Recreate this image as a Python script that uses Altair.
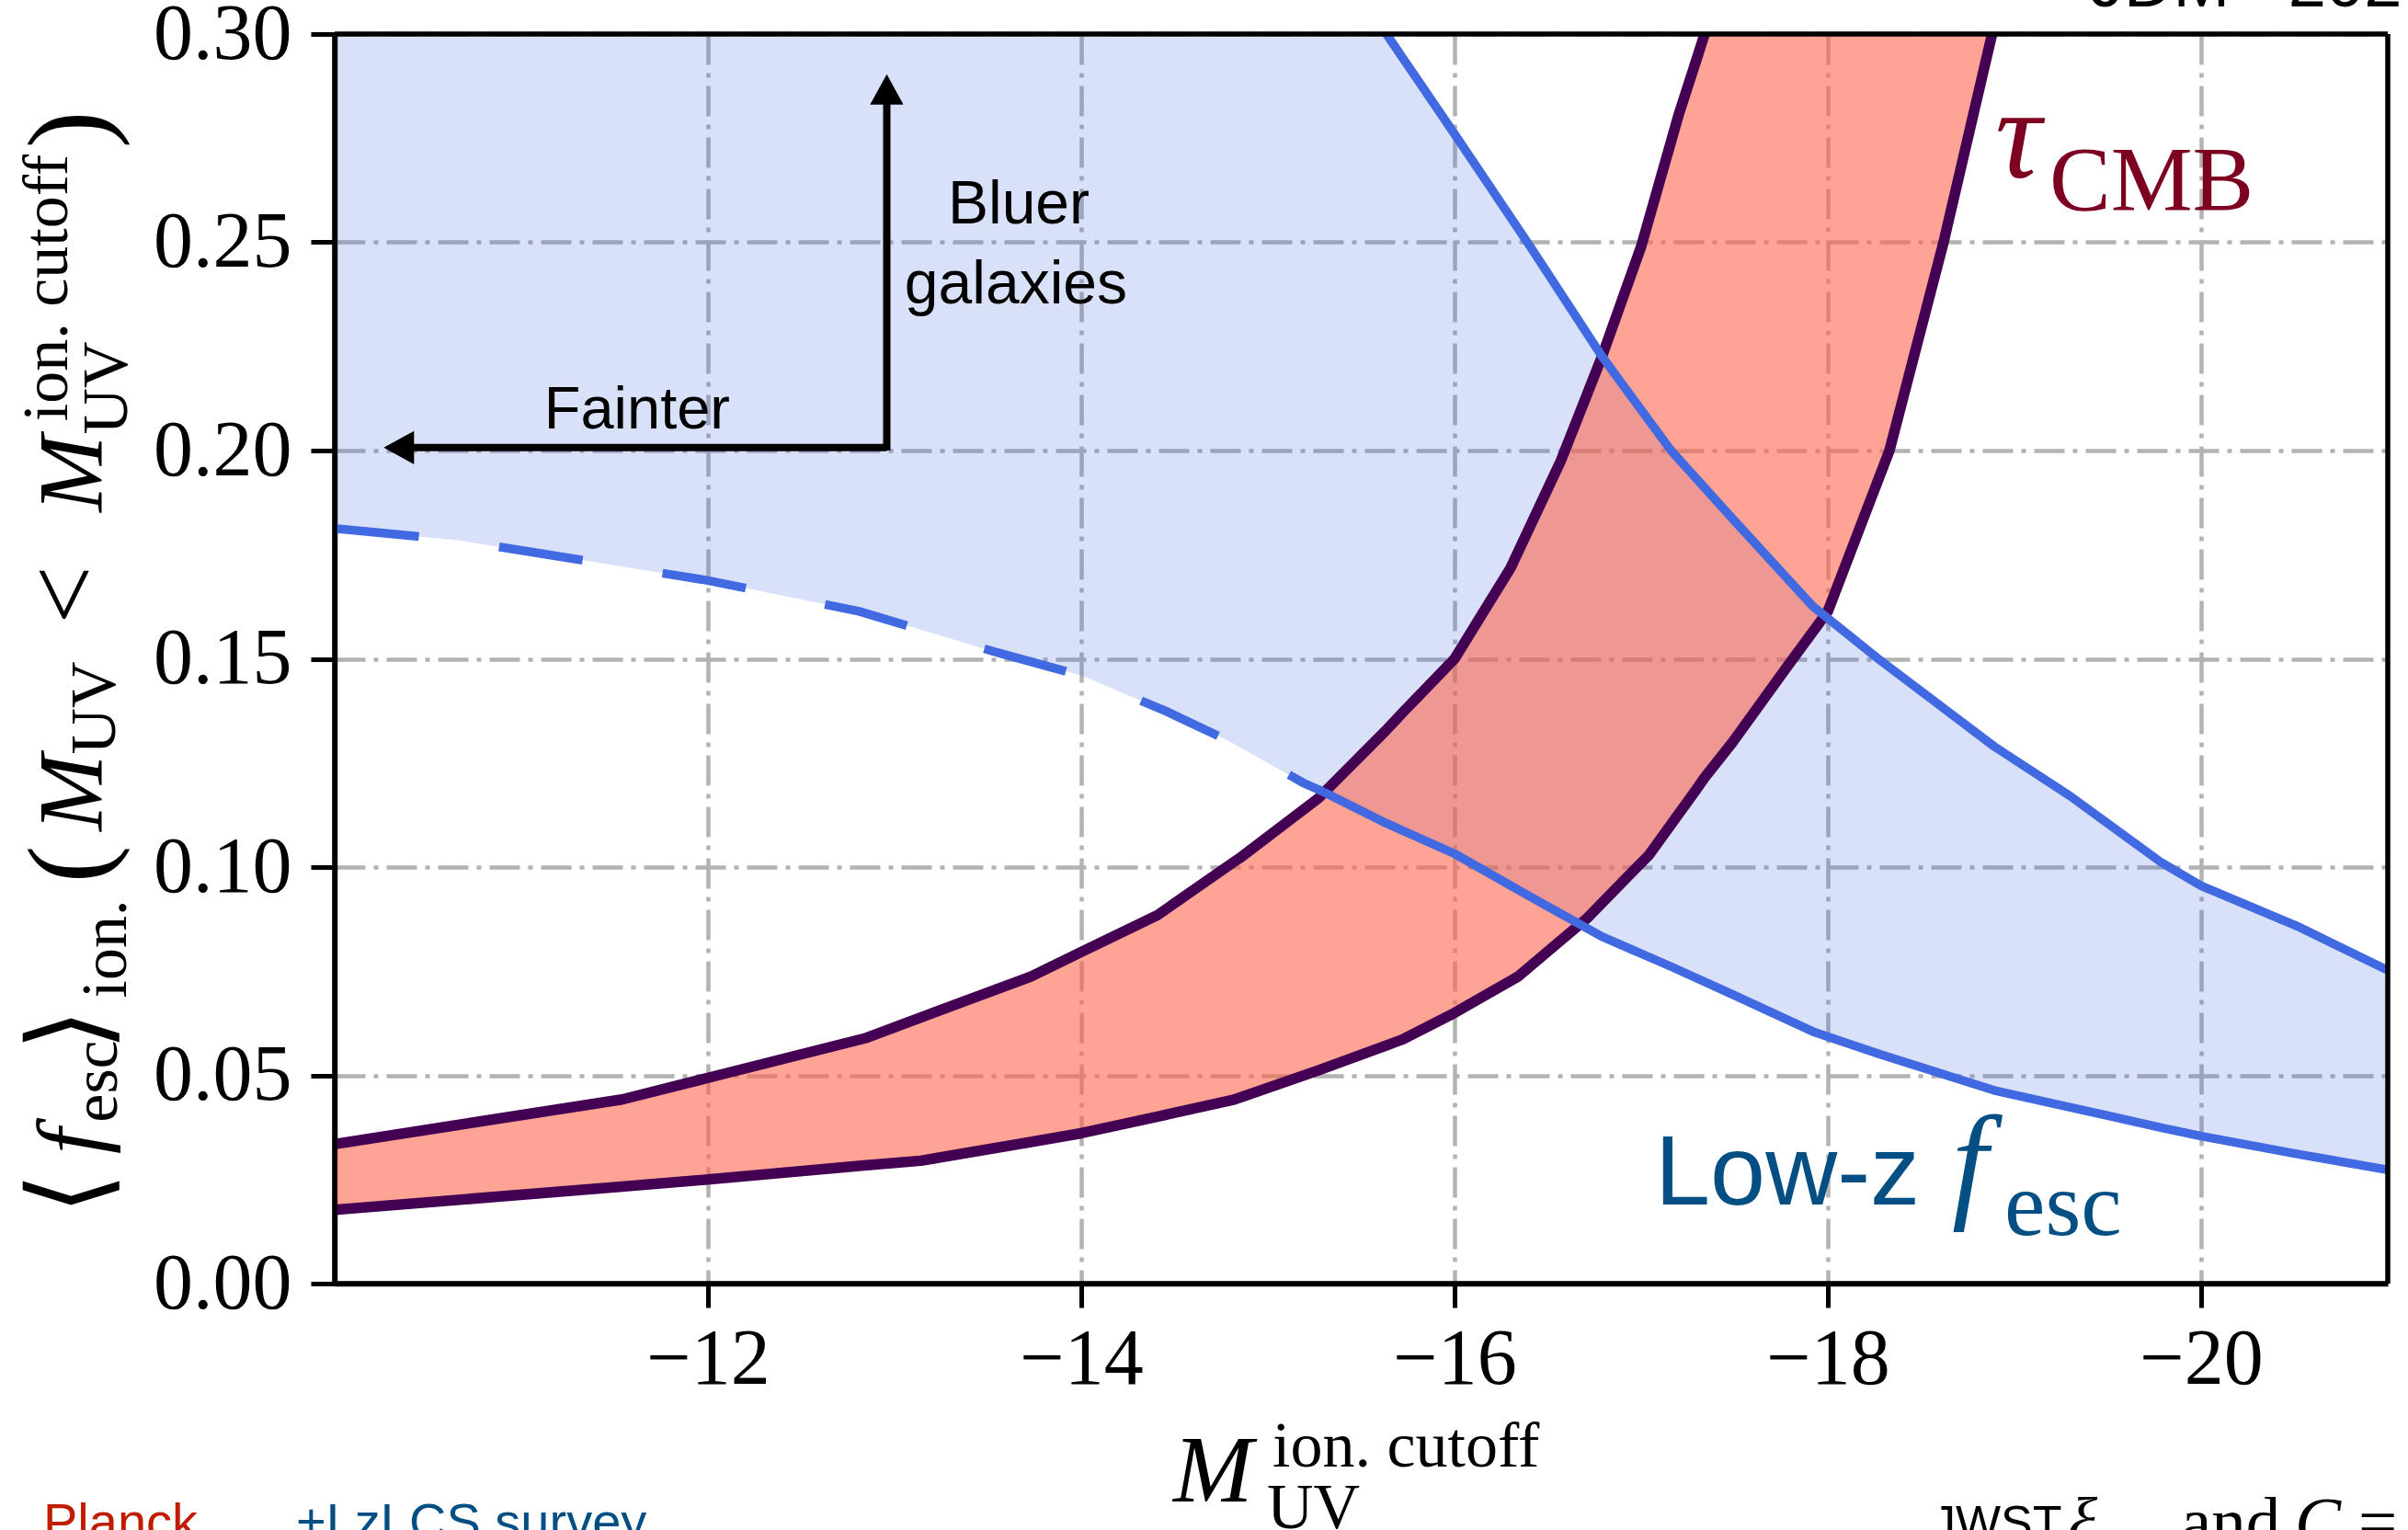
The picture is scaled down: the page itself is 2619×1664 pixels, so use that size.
import altair as alt
import pandas as pd

# ---------------------------------------------------------------- data
x_ticks = [-12, -14, -16, -18, -20]
y_ticks = [0.00, 0.05, 0.10, 0.15, 0.20, 0.25, 0.30]

# tau_CMB band: cutoff magnitude, lower / upper <f_esc>
tau_M = [-10.00, -11.54, -12.00, -12.85, -13.14, -13.73, -14.00, -14.41, -14.82, -14.86,
         -15.27, -15.63, -15.72, -16.00, -16.30, -16.34, -16.57, -16.71, -16.79, -17.00,
         -17.04, -17.20, -17.29, -17.34, -17.49, -17.78, -18.00, -18.33, -18.62, -18.88]
tau_hi = [0.0335, 0.0442, 0.0494, 0.0590, 0.0639, 0.0737, 0.0796, 0.0885, 0.1013, 0.1025,
          0.1165, 0.1327, 0.1370, 0.1500, 0.1718, 0.1756, 0.1976, 0.2135, 0.2226, 0.2490,
          0.2553, 0.2805, 0.2930, 0.3000, 0.3000, 0.3000, 0.3000, 0.3000, 0.3000, 0.3000]
tau_lo = [0.0177, 0.0233, 0.0250, 0.0284, 0.0295, 0.0340, 0.0361, 0.0401, 0.0442, 0.0448,
          0.0512, 0.0571, 0.0586, 0.0650, 0.0727, 0.0737, 0.0824, 0.0877, 0.0914, 0.1010,
          0.1028, 0.1127, 0.1183, 0.1215, 0.1300, 0.1480, 0.1614, 0.2000, 0.2500, 0.3000]
tau_top_M = -17.34          # upper tau curve leaves the panel here

# low-z f_esc band: cutoff magnitude, lower / upper <f_esc>
lowz_M = [-10.00, -10.67, -11.49, -12.00, -12.81, -13.55, -14.00, -14.45, -14.78, -15.19,
          -15.30, -15.635, -16.00, -16.42, -16.79, -17.16, -17.49, -17.92, -18.27, -18.89,
          -19.30, -19.79, -20.00, -20.53, -21.00]
lowz_lo = [0.1813, 0.1784, 0.1725, 0.1688, 0.1614, 0.1515, 0.1460, 0.1375, 0.1305, 0.1202,
           0.1180, 0.1105, 0.1032, 0.0925, 0.0833, 0.0761, 0.0694, 0.0605, 0.0552, 0.0464,
           0.0423, 0.0374, 0.0354, 0.0310, 0.0273]
lowz_hi = [0.3000, 0.3000, 0.3000, 0.3000, 0.3000, 0.3000, 0.3000, 0.3000, 0.3000, 0.3000,
           0.3000, 0.3000, 0.2760, 0.2480, 0.2226, 0.2000, 0.1836, 0.1626, 0.1500, 0.1290,
           0.1170, 0.1010, 0.0955, 0.0855, 0.0752]
lowz_top_M = -15.635        # upper low-z curve enters the panel here
lowz_dash_end = -15.30      # lower low-z curve is dashed up to the tau band

# direction arrows (cutoff magnitude, <f_esc>)
arrow_corner = (-12.958, 0.2000)
arrow_up_tip = (-12.958, 0.2867)
arrow_left_tip = (-10.344, 0.2007)

# ---------------------------------------------------------------- style
W, H = 2233, 1359
PAD = {"left": 364, "top": 37, "right": 22, "bottom": 268}
SERIF = "Liberation Serif, DejaVu Serif, DejaVu Sans"
SANS = "Liberation Sans, Arial, Helvetica"
BLUE = "#4169e1"
PURPLE = "#440154"
GRID = "#b3b3b3"
TAU_RED = "#7d0021"
LOWZ_BLUE = "#034e82"

xs = alt.Scale(domain=[-10, -21], nice=False, zero=False)
ys = alt.Scale(domain=[0, 0.30], nice=False, zero=False)

common_axis = dict(
    title=None, grid=True, gridColor=GRID, gridWidth=4.5, gridDash=[33, 9, 5, 9],
    tickSize=26, tickWidth=5, tickColor="black", domainColor="black", domainWidth=5.5,
    labelFont=SERIF, labelFontSize=86, labelColor="black", labelFlush=False,
    labelOverlap=False, labelBound=False,
)
xaxis = alt.Axis(values=x_ticks, labelPadding=14,
                 labelExpr="replace(datum.label, '-', '\u2212')", **common_axis)
yaxis = alt.Axis(values=y_ticks, format=".2f", labelPadding=21, **common_axis)


def X(field):
    return alt.X(f"{field}:Q", scale=xs, axis=xaxis)


def Y(field):
    return alt.Y(f"{field}:Q", scale=ys, axis=yaxis)


tau = pd.DataFrame({"M": tau_M, "lo": tau_lo, "hi": tau_hi})
tau["i"] = range(len(tau))
lowz = pd.DataFrame({"M": lowz_M, "lo": lowz_lo, "hi": lowz_hi})
lowz["i"] = range(len(lowz))

LW_BLUE = 9.5
LW_PURPLE = 11.5

layers = []

# shaded regions
layers.append(alt.Chart(lowz).mark_area(color=BLUE, opacity=0.2, clip=True)
              .encode(x=X("M"), y=Y("lo"), y2="hi"))
layers.append(alt.Chart(tau).mark_area(color="tomato", opacity=0.58, clip=True)
              .encode(x=X("M"), y=Y("lo"), y2="hi"))

# tau band edges
layers.append(alt.Chart(tau[tau.M >= tau_top_M])
              .mark_line(color=PURPLE, strokeWidth=LW_PURPLE, strokeJoin="round", clip=True)
              .encode(x=X("M"), y=Y("hi"), order="i:Q"))
layers.append(alt.Chart(tau)
              .mark_line(color=PURPLE, strokeWidth=LW_PURPLE, strokeJoin="round", clip=True)
              .encode(x=X("M"), y=Y("lo"), order="i:Q"))

# low-z band edges
layers.append(alt.Chart(lowz[lowz.M >= lowz_dash_end])
              .mark_line(color=BLUE, strokeWidth=LW_BLUE, strokeDash=[92, 88], clip=True)
              .encode(x=X("M"), y=Y("lo"), order="i:Q"))
layers.append(alt.Chart(lowz[lowz.M <= lowz_dash_end])
              .mark_line(color=BLUE, strokeWidth=LW_BLUE, strokeJoin="round", clip=True)
              .encode(x=X("M"), y=Y("lo"), order="i:Q"))
layers.append(alt.Chart(lowz[lowz.M <= lowz_top_M])
              .mark_line(color=BLUE, strokeWidth=LW_BLUE, strokeJoin="round", clip=True)
              .encode(x=X("M"), y=Y("hi"), order="i:Q"))

# arrows
shaft_v = pd.DataFrame({"M": [arrow_corner[0]], "f": [arrow_corner[1]], "f2": [arrow_up_tip[1]]})
shaft_h = pd.DataFrame({"M": [arrow_corner[0]], "M2": [arrow_left_tip[0]], "f": [arrow_left_tip[1]]})
layers.append(alt.Chart(shaft_v).mark_rule(color="black", strokeWidth=8)
              .encode(x=X("M"), y=Y("f"), y2="f2"))
layers.append(alt.Chart(shaft_h).mark_rule(color="black", strokeWidth=8)
              .encode(x=X("M"), x2="M2", y=Y("f")))
head_up = pd.DataFrame({"M": [arrow_up_tip[0]], "f": [arrow_up_tip[1]]})
head_left = pd.DataFrame({"M": [arrow_left_tip[0]], "f": [arrow_left_tip[1]]})
layers.append(alt.Chart(head_up).mark_point(
    shape="M -1.1,1 L 0,-1 L 1.1,1 Z", size=1089, filled=True,
    color="black", opacity=1, strokeWidth=0).encode(x=X("M"), y=Y("f")))
layers.append(alt.Chart(head_left).mark_point(
    shape="M 1,-1.1 L -1,0 L 1,1.1 Z", size=1089, filled=True,
    color="black", opacity=1, strokeWidth=0).encode(x=X("M"), y=Y("f")))


def data_text(label, M, f, size, font, color="black", italic=False, align="left"):
    kw = dict(font=font, fontSize=size, color=color, align=align, baseline="alphabetic")
    if italic:
        kw["fontStyle"] = "italic"
    return alt.Chart(pd.DataFrame({"M": [M], "f": [f], "t": [label]})).mark_text(**kw).encode(
        x=X("M"), y=Y("f"), text="t:N")


# annotations inside the panel
layers.append(data_text("Fainter", -11.62, 0.2052, 65, SANS, align="center"))
layers.append(data_text("Bluer", -13.665, 0.2546, 66, SANS, align="center"))
layers.append(data_text("galaxies", -13.65, 0.2353, 66, SANS, align="center"))
layers.append(data_text("\u03c4", -18.897, 0.2656, 140, SERIF, TAU_RED, italic=True))
layers.append(data_text("CMB", -19.187, 0.2578, 100, SERIF, TAU_RED))
layers.append(data_text("Low-z", -17.074, 0.0190, 108, SANS, LOWZ_BLUE))
layers.append(data_text("f", -18.665, 0.0190, 140, SERIF, LOWZ_BLUE, italic=True))
layers.append(data_text("esc", -18.946, 0.0117, 100, SERIF, LOWZ_BLUE))

# panel frame drawn above the shading
one = pd.DataFrame({"k": [0]})
frame = dict(color="black", strokeWidth=5.5)
layers.append(alt.Chart(one).mark_rule(**frame).encode(
    x=alt.value(0), x2=alt.value(W), y=alt.value(0)))
layers.append(alt.Chart(one).mark_rule(**frame).encode(
    x=alt.value(0), x2=alt.value(W), y=alt.value(H)))
layers.append(alt.Chart(one).mark_rule(**frame).encode(
    x=alt.value(0), y=alt.value(0), y2=alt.value(H)))
layers.append(alt.Chart(one).mark_rule(**frame).encode(
    x=alt.value(W), y=alt.value(0), y2=alt.value(H)))


def page_text(label, x, y, size, font, color="black", italic=False, angle=0, align="left"):
    """Text placed in page pixels (x, y measured from the page's top-left corner)."""
    kw = dict(font=font, fontSize=size, color=color, align=align, baseline="alphabetic")
    if italic:
        kw["fontStyle"] = "italic"
    if angle:
        kw["angle"] = angle
    return alt.Chart(pd.DataFrame({"t": [label]})).mark_text(**kw).encode(
        x=alt.value(x - PAD["left"]), y=alt.value(y - PAD["top"]), text="t:N")


# y-axis title: <f_esc>_ion.(M_UV < M_UV^ion. cutoff), read bottom to top
y_title = [
    ("\u27e8", 1298, 114, 118, False),
    ("f", 1241, 110, 100, True),
    ("esc", 1176, 127, 70, False),
    ("\u27e9", 1120, 114, 118, False),
    ("ion.", 1032, 137, 70, False),
    ("(", 940, 115, 122, False),
    ("M", 862, 110, 100, True),
    ("UV", 770, 125, 70, False),
    ("<", 647, 107, 112, False),
    ("M", 515, 110, 100, True),
    ("UV", 422, 138, 70, False),
    ("ion. cutoff", 313, 73, 70, False),
    (")", 141, 115, 122, False),
]
for label, yc, xb, size, it in y_title:
    layers.append(page_text(label, xb, yc, size, SERIF, italic=it, angle=270, align="center"))

# x-axis title: M_UV^ion. cutoff
layers.append(page_text("M", 1276, 1633, 104, SERIF, italic=True))
layers.append(page_text("UV", 1378, 1662, 70, SERIF))
layers.append(page_text("ion. cutoff", 1384, 1595, 70, SERIF))

# neighbouring captions running off the page edges
layers.append(page_text("JDM+ 2024", 2273, 7, 74, SANS))
layers.append(page_text("Planck", 47, 1674, 56, SANS, "#c01c00"))
layers.append(page_text("+LzLCS survey", 322, 1674, 56, SANS, LOWZ_BLUE))
layers.append(page_text("JWST", 2101, 1674, 52, SANS))
layers.append(page_text("\u03be", 2249, 1680, 75, SERIF, italic=True))
layers.append(page_text("and", 2372, 1680, 75, SERIF))
layers.append(page_text("C", 2496, 1680, 75, SERIF, italic=True))
layers.append(page_text("=", 2565, 1680, 75, SERIF))

chart = (
    alt.layer(*layers)
    .properties(width=W, height=H, padding=PAD,
                autosize=alt.AutoSizeParams(type="none"), background="white")
    .configure_view(stroke=None)
)

chart.save("out.html", embed_options={"renderer": "svg", "actions": False})
